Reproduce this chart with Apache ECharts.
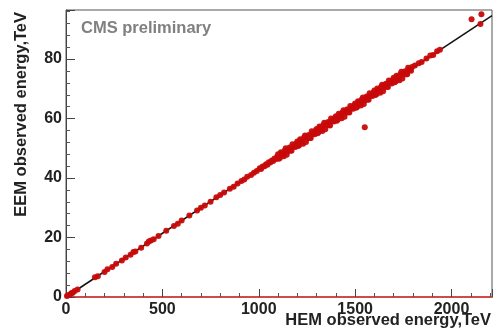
<!DOCTYPE html>
<html>
<head>
<meta charset="utf-8">
<script src="https://cdn.jsdelivr.net/npm/echarts@6/dist/echarts.min.js"></script>
<style>
  html, body { margin: 0; padding: 0; background: #fff; }
  #chart { width: 493px; height: 332px; }
</style>
</head>
<body>
<div id="chart"></div>
<script>
// Axis ranges and tick steps
const xRange = [0, 2210];
const yRange = [0, 96.5];
const xStep = 500;
const yStep = 20;

// Axis titles and annotation
const xTitle = 'HEM observed energy,TeV';
const yTitle = 'EEM observed energy,TeV';
const tagText = 'CMS preliminary';

// Linear fit drawn through the events (HEM, EEM)
const fitLine = [[0, 0], [2210, 94.6]];

// Low-energy events
const lowEvents = [
  [5, 0.3], [12, 0.6], [20, 0.8], [28, 1.3], [35, 1.4], [45, 2.0], [60, 2.5],
  [150, 6.6], [165, 7.0], [200, 8.4], [215, 9.3], [240, 10.1], [260, 11.2],
  [290, 12.3], [310, 13.3], [335, 14.2], [350, 15.1], [360, 15.3], [390, 16.6],
  [420, 18.0], [430, 18.7], [440, 19.0], [455, 19.4], [480, 20.5], [520, 22.3],
  [560, 23.9], [580, 24.6], [600, 25.7], [640, 27.4], [680, 29.1], [700, 30.0],
  [720, 30.8], [750, 32.0], [780, 33.5], [800, 34.3], [820, 35.1], [850, 36.4],
  [870, 37.1], [890, 38.2], [910, 39.0], [925, 39.5], [940, 40.4], [960, 41.0],
  [975, 41.8], [990, 42.4],
  [1005, 43.3], [1012, 43.0], [1020, 43.9], [1030, 44.0], [1038, 44.6], [1045, 44.5],
  [1052, 45.3], [1060, 45.2], [1068, 45.9], [1075, 45.7], [1082, 46.6], [1090, 46.4],
  [1096, 47.2]
];

// Main populated region of events
const bulkEvents = [
  [1100, 48.0], [1105, 46.5], [1110, 46.8], [1115, 48.7], [1120, 48.2], [1125, 47.9],
  [1130, 47.3], [1135, 49.3], [1140, 50.0], [1145, 47.8], [1150, 49.0], [1155, 49.8],
  [1160, 50.3], [1165, 49.3], [1170, 49.2], [1175, 51.4], [1180, 50.6], [1185, 50.7],
  [1190, 50.4], [1195, 51.6], [1200, 52.3], [1205, 50.8], [1210, 51.1], [1215, 53.0],
  [1220, 52.5], [1225, 52.1], [1230, 51.5], [1235, 53.6], [1240, 54.3], [1245, 52.1],
  [1250, 53.3], [1255, 54.1], [1260, 54.5], [1265, 53.5], [1270, 53.5], [1275, 55.7],
  [1280, 54.9], [1285, 55.0], [1290, 54.7], [1295, 55.9], [1300, 56.5], [1305, 55.1],
  [1310, 55.4], [1315, 57.3], [1320, 56.8], [1325, 56.4], [1330, 55.8], [1335, 57.8],
  [1340, 58.6], [1345, 56.4], [1350, 57.6], [1355, 58.4], [1360, 58.8], [1365, 57.8],
  [1370, 57.7], [1375, 60.0], [1380, 59.2], [1385, 59.3], [1390, 59.0], [1395, 60.2],
  [1400, 60.8], [1405, 59.3], [1410, 59.7], [1415, 61.6], [1420, 61.1], [1425, 60.7],
  [1430, 60.1], [1435, 62.1], [1440, 62.8], [1445, 60.6], [1450, 61.9], [1455, 62.7],
  [1460, 63.1], [1465, 62.1], [1470, 62.0], [1475, 64.2], [1480, 63.4], [1485, 63.6],
  [1490, 63.3], [1495, 64.5], [1500, 65.1], [1505, 63.6], [1510, 63.9], [1515, 65.8],
  [1520, 65.4], [1525, 65.0], [1530, 64.4], [1535, 66.4], [1540, 67.1], [1545, 64.9],
  [1550, 66.1], [1555, 67.0], [1560, 67.4], [1565, 66.4], [1570, 66.3], [1575, 68.5],
  [1580, 67.7], [1585, 67.8], [1590, 67.6], [1595, 68.8], [1600, 69.4], [1605, 67.9],
  [1610, 68.2], [1615, 70.1], [1620, 69.6], [1625, 69.3], [1630, 68.7], [1635, 70.7],
  [1640, 71.4], [1645, 69.2], [1650, 70.4], [1655, 71.2], [1660, 71.7], [1665, 70.7],
  [1670, 70.6], [1675, 72.8], [1680, 72.0], [1685, 72.1], [1690, 71.8], [1695, 73.0],
  [1700, 73.7], [1705, 72.2], [1710, 72.5], [1715, 74.4], [1720, 73.9], [1725, 73.5],
  [1730, 72.9], [1735, 75.0], [1740, 75.7], [1745, 73.5], [1750, 74.7], [1755, 75.5],
  [1760, 75.9], [1765, 74.9], [1770, 74.9], [1775, 77.1], [1780, 76.3], [1785, 76.4],
  [1790, 76.1], [1795, 77.3]
];

// High-energy tail and isolated events
const highEvents = [
  [1810, 77.8], [1830, 78.6], [1845, 79.0], [1870, 80.2], [1890, 81.2], [1905, 81.4],
  [1925, 82.6], [1940, 83.1], [1550, 57.1], [2104, 93.4], [2155, 95.1], [2150, 91.8]
];

const events = lowEvents.concat(bulkEvents, highEvents);

const chart = echarts.init(document.getElementById('chart'), null, { renderer: 'canvas' });

const labelFont = {
  fontFamily: 'Liberation Sans, Arial, sans-serif',
  fontWeight: 'bold',
  fontSize: 16,
  color: '#222'
};

const plain = v => String(v);
const titleFont = 'bold 16.5px "Liberation Sans", Arial, sans-serif';

chart.setOption({
  animation: false,
  backgroundColor: '#fff',
  grid: {
    left: 66, right: 1, top: 10, bottom: 35,
    show: true, borderColor: '#555', borderWidth: 1, backgroundColor: 'transparent'
  },
  xAxis: {
    type: 'value',
    min: xRange[0], max: xRange[1], interval: xStep,
    axisLine: { show: true, onZero: false, lineStyle: { color: '#cf4a4a', width: 2 } },
    axisTick: { show: true, inside: true, length: 8, lineStyle: { color: '#444' } },
    minorTick: { show: true, splitNumber: 5, length: 4, lineStyle: { color: '#555' } },
    axisLabel: Object.assign({ margin: 5, showMaxLabel: false, formatter: plain }, labelFont),
    splitLine: { show: false }
  },
  yAxis: {
    type: 'value',
    min: yRange[0], max: yRange[1], interval: yStep,
    axisLine: { show: true, onZero: false, lineStyle: { color: '#444', width: 1 } },
    axisTick: { show: true, inside: true, length: 9, lineStyle: { color: '#444' } },
    minorTick: { show: true, splitNumber: 5, length: 4, lineStyle: { color: '#555' } },
    axisLabel: Object.assign({ margin: 4, showMaxLabel: false, formatter: plain }, labelFont),
    splitLine: { show: false }
  },
  series: [
    {
      type: 'line',
      data: fitLine,
      symbol: 'none',
      lineStyle: { color: '#111', width: 1.5 },
      z: 2
    },
    {
      type: 'scatter',
      data: events,
      symbol: 'circle',
      symbolSize: 6,
      itemStyle: { color: '#c80a0a', opacity: 0.95 },
      z: 3
    }
  ],
  graphic: [
    {
      type: 'text',
      left: 81, top: 20,
      style: { text: tagText, font: titleFont, fill: '#808080' }
    },
    {
      type: 'text',
      right: 2, top: 312,
      style: { text: xTitle, font: titleFont, fill: '#222' }
    },
    {
      type: 'text',
      x: 13, y: 12,
      rotation: Math.PI / 2,
      style: { text: yTitle, font: titleFont, fill: '#222', align: 'right', verticalAlign: 'top' }
    }
  ]
});
</script>
</body>
</html>
